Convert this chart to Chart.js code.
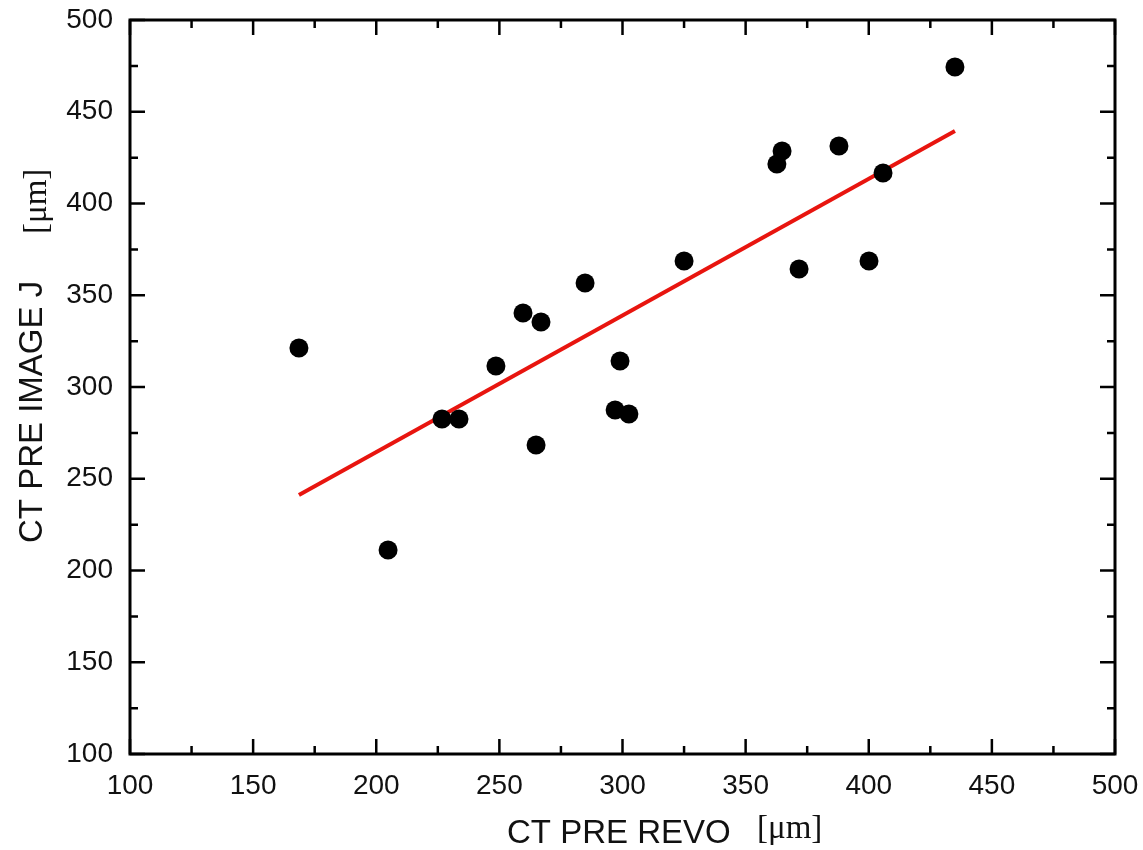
<!DOCTYPE html>
<html>
<head>
<meta charset="utf-8">
<script src="https://cdn.jsdelivr.net/npm/chart.js@4.4.1/dist/chart.umd.min.js"></script>
<style>
  html, body { margin: 0; padding: 0; background: #fff; }
  #wrap { width: 1143px; height: 850px; position: relative; }
</style>
</head>
<body>
<div id="wrap"><canvas id="c"></canvas></div>
<script>
// Data
const revoX = [168.6, 204.8, 226.7, 233.6, 248.6, 259.6, 266.9, 264.9, 284.8, 297.0,
               299.0, 302.6, 325.0, 362.7, 364.8, 371.7, 387.9, 400.1, 405.8, 435.0];
const imageJY = [321.3, 211.2, 282.6, 282.6, 311.4, 340.3, 335.4, 268.4, 356.7, 287.5,
                 314.2, 285.3, 368.7, 421.5, 428.6, 364.3, 431.3, 368.7, 416.6, 474.4];
const fitX = [168.6, 435.0];
const fitY = [241.1, 439.5];
const axisMin = 100, axisMax = 500, majorStep = 50, minorStep = 25;
const xTitle = "CT PRE REVO", yTitle = "CT PRE IMAGE J", unitLabel = "[\u03bcm]";

const points = revoX.map((x, i) => ({ x: x, y: imageJY[i] }));
const fitLine = fitX.map((x, i) => ({ x: x, y: fitY[i] }));

const framePlugin = {
  id: 'frame',
  afterDraw(chart) {
    const ctx = chart.ctx;
    const a = chart.chartArea;
    const xs = chart.scales.x, ys = chart.scales.y;
    ctx.save();
    ctx.strokeStyle = '#000';
    ctx.lineCap = 'butt';
    ctx.lineWidth = 2.5;
    for (let v = axisMin; v <= axisMax; v += minorStep) {
      const major = (v - axisMin) % majorStep === 0;
      const len = major ? 15 : 8;
      const px = xs.getPixelForValue(v);
      const py = ys.getPixelForValue(v);
      ctx.beginPath();
      ctx.moveTo(px, a.bottom); ctx.lineTo(px, a.bottom - len);
      ctx.moveTo(px, a.top); ctx.lineTo(px, a.top + len);
      ctx.moveTo(a.left, py); ctx.lineTo(a.left + len, py);
      ctx.moveTo(a.right, py); ctx.lineTo(a.right - len, py);
      ctx.stroke();
    }
    ctx.lineWidth = 3;
    ctx.strokeRect(a.left, a.top, a.right - a.left, a.bottom - a.top);

    ctx.fillStyle = '#111';
    ctx.textBaseline = 'alphabetic';
    const sans = '33px "Liberation Sans", Arial, sans-serif';
    const serif = '33px "Liberation Serif", "DejaVu Serif", serif';
    ctx.font = sans;
    ctx.textAlign = 'left';
    ctx.fillText(xTitle, 507, 843);
    ctx.font = serif;
    ctx.fillText(unitLabel, 757, 838);
    ctx.translate(42, 0);
    ctx.rotate(-Math.PI / 2);
    ctx.font = sans;
    ctx.fillText(yTitle, -543, 0);
    ctx.font = serif;
    ctx.fillText(unitLabel, -234, 4);
    ctx.restore();
  }
};

new Chart(document.getElementById('c'), {
  type: 'scatter',
  data: {
    datasets: [
      {
        label: 'fit',
        data: fitLine,
        showLine: true,
        borderColor: '#e8150f',
        borderWidth: 4,
        pointRadius: 0,
        fill: false,
        order: 2
      },
      {
        label: 'points',
        data: points,
        backgroundColor: '#000',
        borderColor: '#000',
        pointRadius: 9.5,
        pointHoverRadius: 9.5,
        borderWidth: 0,
        order: 1
      }
    ]
  },
  options: {
    responsive: true,
    maintainAspectRatio: false,
    animation: false,
    events: [],
    layout: { padding: { top: 20, right: 28, left: 0, bottom: 0 } },
    plugins: { legend: { display: false }, tooltip: { enabled: false } },
    scales: {
      x: {
        type: 'linear', min: axisMin, max: axisMax,
        grid: { display: false, drawTicks: false },
        border: { display: false },
        ticks: { stepSize: majorStep, color: '#111', padding: 15,
                 font: { family: '"Liberation Sans", Arial, sans-serif', size: 28 } },
        afterFit(scale) { scale.height = 96; scale.paddingLeft = 0; scale.paddingRight = 0; }
      },
      y: {
        type: 'linear', min: axisMin, max: axisMax,
        grid: { display: false, drawTicks: false },
        border: { display: false },
        ticks: { stepSize: majorStep, color: '#111', padding: 17,
                 font: { family: '"Liberation Sans", Arial, sans-serif', size: 28 } },
        afterFit(scale) { scale.width = 130; scale.paddingTop = 0; scale.paddingBottom = 0; }
      }
    }
  },
  plugins: [framePlugin]
});
</script>
</body>
</html>
